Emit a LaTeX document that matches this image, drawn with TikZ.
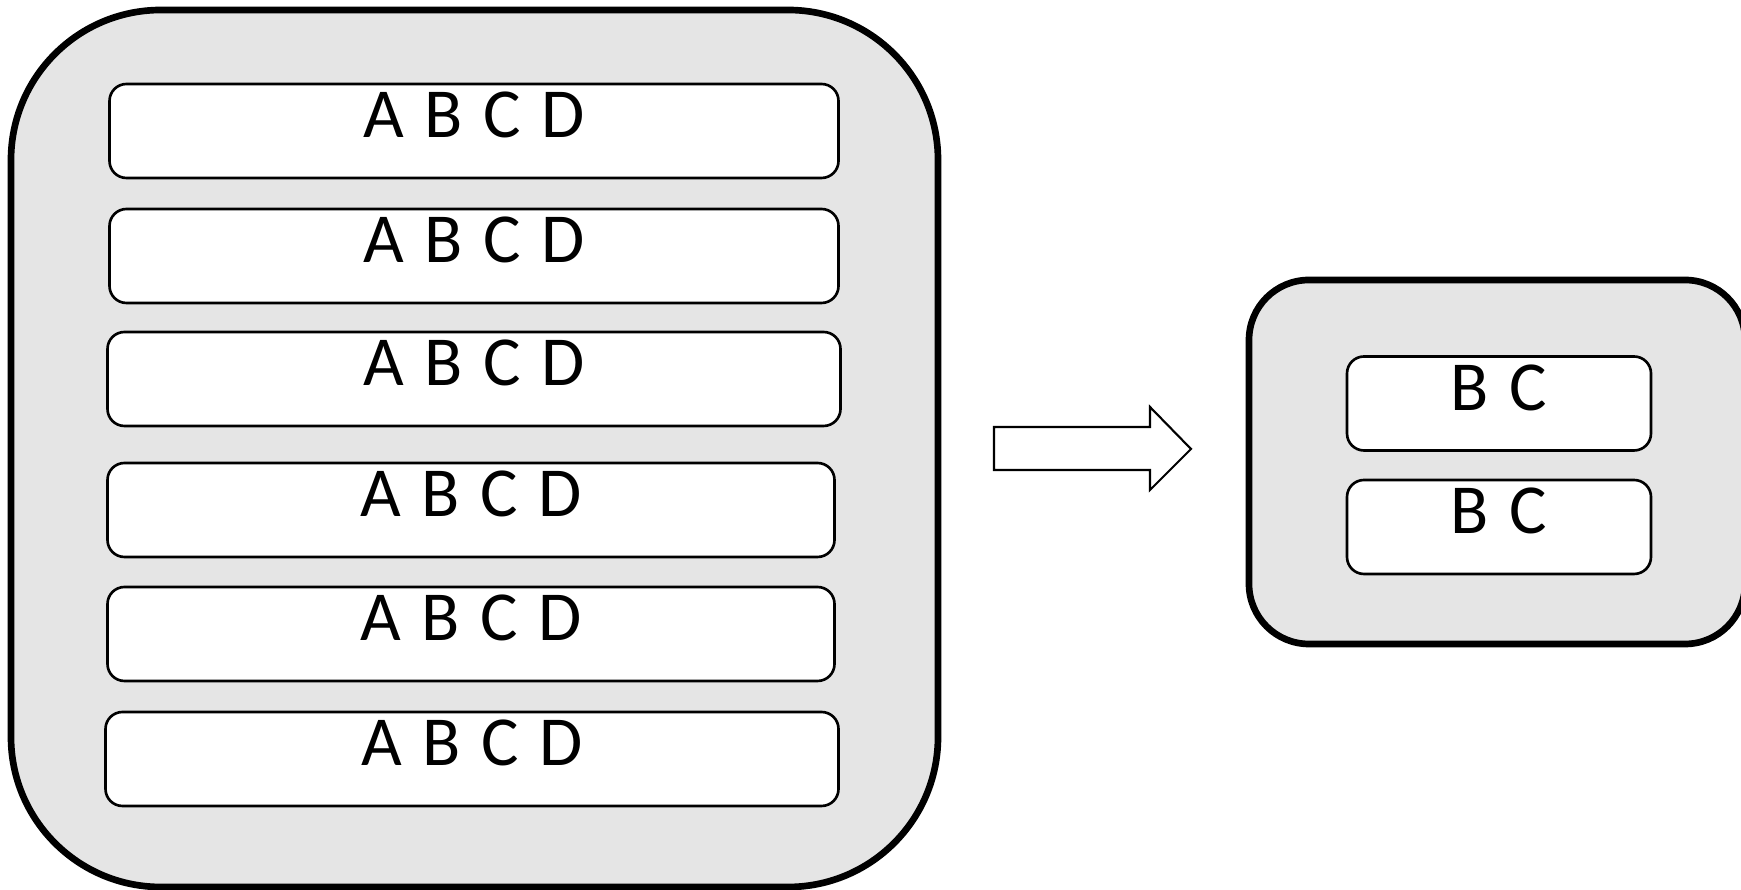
\documentclass[tikz,border=0pt]{standalone}
\usepackage{fontspec}
\setmainfont{Carlito}
\newfontfamily\cellfont[WordSpace=1.3]{Carlito}

\tikzset{
  tray/.style={draw, line width=1.9pt, fill=black!10, inner sep=0pt},
  rowbox/.style={draw, line width=0.75pt, fill=white, rounded corners=0.17cm, inner sep=0pt, minimum height=0.94cm},
  letters/.style={anchor=base, inner sep=0pt, font=\cellfont\fontsize{20}{24}\selectfont},
}

\begin{document}
\begin{tikzpicture}
        \useasboundingbox (0,0) rectangle (17.41,8.90);
        % full table
        \node[tray, rounded corners=1.5cm, minimum width=9.27cm, minimum height=8.77cm] (full) at (4.745,4.415) {};
        \node[rowbox, minimum width=7.29cm] (r1) at (4.74,7.59) {};
        \node[rowbox, minimum width=7.29cm] (r2) at (4.74,6.34) {};
        \node[rowbox, minimum width=7.33cm] (r3) at (4.74,5.11) {};
        \node[rowbox, minimum width=7.27cm] (r4) at (4.71,3.80) {};
        \node[rowbox, minimum width=7.27cm] (r5) at (4.71,2.56) {};
        \node[rowbox, minimum width=7.33cm] (r6) at (4.72,1.31) {};
        \node[letters] (t1) at ([yshift=-0.07cm]r1.center) {A B C D};
        \node[letters] (t2) at ([yshift=-0.07cm]r2.center) {A B C D};
        \node[letters] (t3) at ([yshift=-0.07cm]r3.center) {A B C D};
        \node[letters] (t4) at ([yshift=-0.07cm]r4.center) {A B C D};
        \node[letters] (t5) at ([yshift=-0.07cm]r5.center) {A B C D};
        \node[letters] (t6) at ([yshift=-0.07cm]r6.center) {A B C D};
        % block arrow
        \draw[line width=0.6pt, fill=white] (9.94,4.63) -- (11.50,4.63) -- (11.50,4.83) -- (11.91,4.41)
            -- (11.50,4.00) -- (11.50,4.20) -- (9.94,4.20) -- cycle;
        % projected table
        \node[tray, rounded corners=0.6cm, minimum width=4.96cm, minimum height=3.64cm] (proj) at (14.97,4.28) {};
        \node[rowbox, minimum width=3.04cm] (p1) at (14.99,4.865) {};
        \node[rowbox, minimum width=3.04cm] (p2) at (14.99,3.63) {};
        \node[letters] (q1) at ([yshift=-0.07cm]p1.center) {B C};
        \node[letters] (q2) at ([yshift=-0.07cm]p2.center) {B C};
\end{tikzpicture}
\end{document}
